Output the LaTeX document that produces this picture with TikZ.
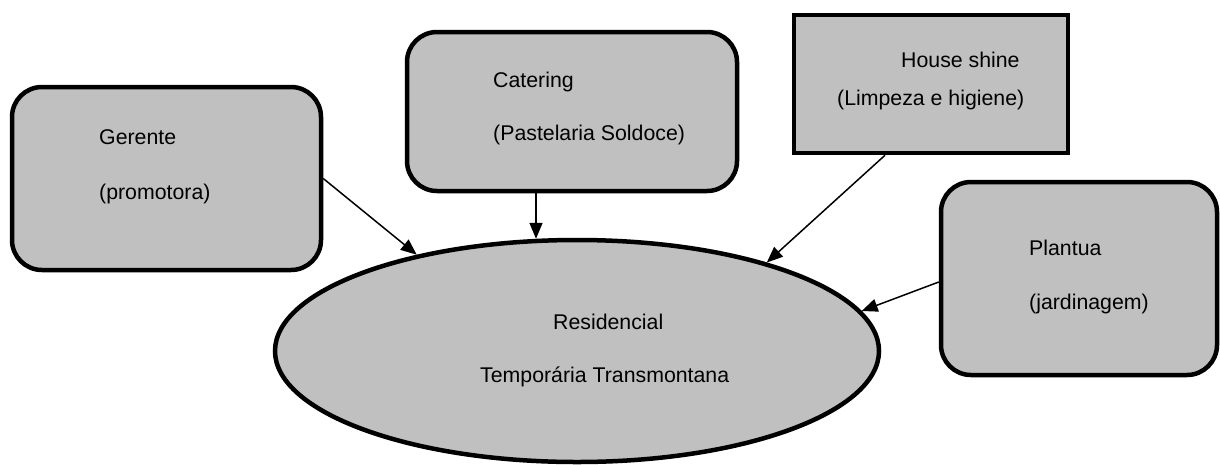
\documentclass[tikz,border=0pt]{standalone}
\usepackage{fontspec}
\setmainfont{Liberation Sans}
\usetikzlibrary{shapes.geometric,arrows.meta}
\definecolor{boxgray}{HTML}{C0C0C0}
\tikzstyle{rbox}=[rectangle,rounded corners=30pt,draw=black,fill=boxgray,line width=4.5pt,inner sep=0pt]
\tikzstyle{sbox}=[rectangle,draw=black,fill=boxgray,line width=4.5pt,inner sep=0pt]
\tikzstyle{oval}=[ellipse,draw=black,fill=boxgray,line width=4.5pt,inner sep=0pt]
\tikzstyle{lbl}=[anchor=base west,inner sep=0pt,font=\fontsize{21.3}{25}\selectfont]
\tikzstyle{arr}=[-{Triangle[length=16pt,width=13pt]},line width=1.5pt,black]

\begin{document}
\begin{tikzpicture}[x=1pt,y=-1pt]
			\useasboundingbox (0,0) rectangle (1220,464);
			% boxes
			\node (ger) at (166.5,178.5) [rbox,minimum width=309pt,minimum height=183pt] {};
			\node (cat) at (572,111.5) [rbox,minimum width=330pt,minimum height=159pt] {};
			\node (house) at (931,84) [sbox,minimum width=274pt,minimum height=138pt] {};
			\node (plant) at (1079,278.5) [rbox,minimum width=276pt,minimum height=193pt] {};
			\node (res) at (577,351) [oval,minimum width=604pt,minimum height=222pt] {};
			
			% texts
			\node (ger1) at (99,144) [lbl] {Gerente};
			\node (ger2) at (99,199) [lbl] {(promotora)};
			\node (cat1) at (493,87) [lbl] {Catering};
			\node (cat2) at (493,140) [lbl] {(Pastelaria Soldoce)};
			\node (house1) at (901,67) [lbl] {House shine};
			\node (house2) at (837,105) [lbl] {(Limpeza e higiene)};
			\node (plant1) at (1029,255) [lbl] {Plantua};
			\node (plant2) at (1029,309) [lbl] {(jardinagem)};
			\node (res1) at (553,329) [lbl] {Residencial};
			\node (res2) at (480,382) [lbl] {Temporária Transmontana};
			
			% arrows
			\draw[arr] (ger.east) -- (res.149);
			\draw[arr] ([xshift=-36pt]cat.south) -- ([xshift=-36pt]cat.south |- res.110);
			\draw[arr] ([xshift=-46pt]house.south) -- (res.25);
			\draw[arr] ([yshift=-3.5pt]plant.west) -- (res.8);
		\end{tikzpicture}
\end{document}
